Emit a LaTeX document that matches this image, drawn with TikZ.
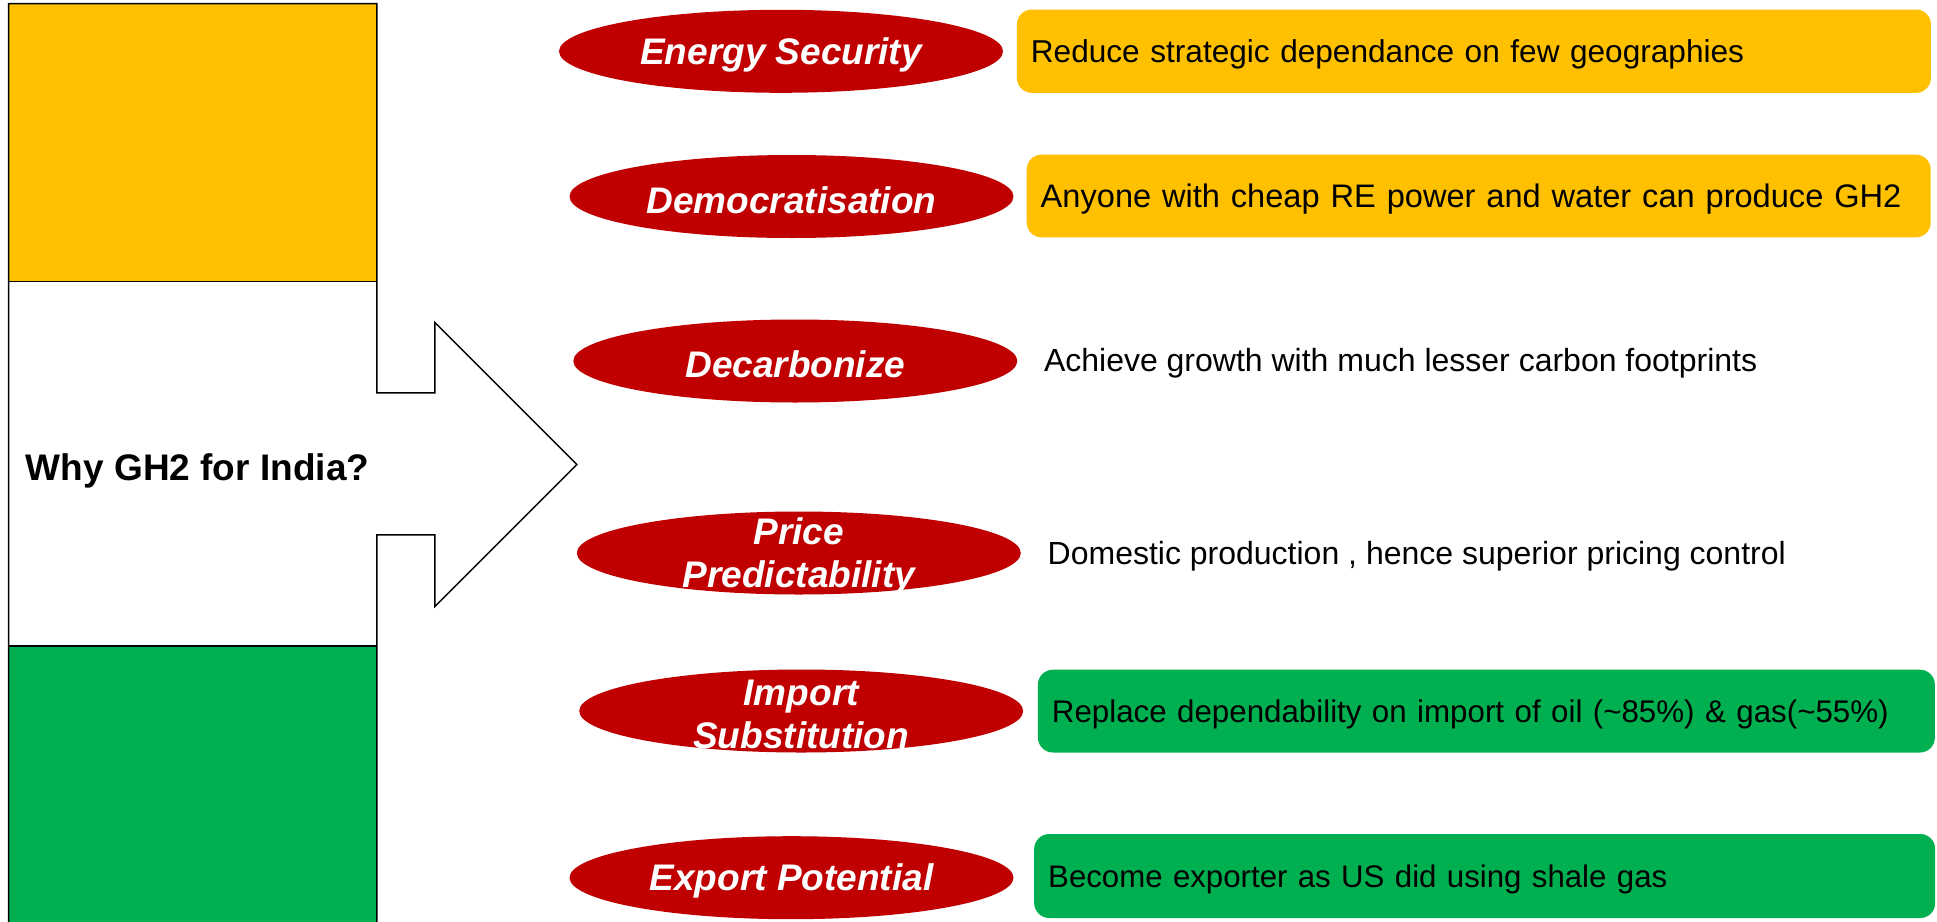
\documentclass[tikz,border=0pt]{standalone}
\usepackage{fontspec}
\setmainfont{Liberation Sans}
\usetikzlibrary{shapes.geometric}
\definecolor{saffron}{HTML}{FFC000}
\definecolor{indgreen}{HTML}{00B050}
\definecolor{ovalred}{HTML}{C00000}
\newcommand{\descsize}[1]{\fontsize{#1}{38}\selectfont}
\begin{document}
\begin{tikzpicture}[x=1pt,y=-1pt,
  oval/.style={ellipse, fill=ovalred, minimum width=444pt, minimum height=83pt, inner sep=0pt},
  ovaltext/.style={text=white, font=\fontsize{37}{43.5}\selectfont\bfseries\itshape,
                   align=center, inner sep=0pt, yshift=-3.4pt},
  descr/.style={anchor=base west, inner sep=0pt},
  tag/.style={rounded corners=15pt, anchor=north west, inner xsep=14pt, inner ysep=0pt,
              align=left, text height=23pt, text depth=0pt},
  frame/.style={draw=black, line width=1.5pt}]
\useasboundingbox (0,0) rectangle (1937,921);
\fill[white] (0,0) rectangle (1937,921);

% tricolour panel with the arrow growing out of its middle band
\fill[saffron] (8.6,3.7) rectangle (376.8,281.6);
\fill[indgreen] (8.6,646) rectangle (376.8,925);
\draw[frame, line join=miter] (376.8,925) -- (376.8,534.9) -- (434.8,534.9) -- (434.8,606.5)
  -- (576.9,464.5) -- (434.8,322.4) -- (434.8,392.8) -- (376.8,392.8) -- (376.8,3.7)
  -- (8.6,3.7) -- (8.6,925);
\draw[frame] (8.6,281.6) -- (376.8,281.6) (8.6,646) -- (376.8,646);
\node[font=\fontsize{37}{42}\selectfont\bfseries, inner sep=0pt] (why) at (197.6,470.8) {Why GH2 for India?};

% red ovals
\node[oval] (e1) at (781,51.3) {};
\node[oval] (e2) at (791.5,196.5) {};
\node[oval] (e3) at (795.3,361) {};
\node[oval] (e4) at (798.8,553) {};
\node[oval] (e5) at (801.2,711) {};
\node[oval] (e6) at (791.5,877.7) {};
\node[ovaltext] (t1) at (e1) {Energy Security};
\node[ovaltext] (t2) at (e2) {Democratisation};
\node[ovaltext] (t3) at (e3) {Decarbonize};
\node[ovaltext] (t4) at (e4) {Price\\Predictability};
\node[ovaltext] (t5) at (e5) {Import\\Substitution};
\node[ovaltext] (t6) at (e6) {Export Potential};

% explanations
\node[tag, fill=saffron, text width=886pt, minimum height=83.4pt, font=\descsize{31.6}] (d1) at (1016.7,9.3)
  {Reduce strategic dependance on few geographies};
\node[tag, fill=saffron, text width=876pt, minimum height=82.8pt, font=\descsize{32.6}] (d2) at (1026.5,154.4)
  {Anyone with cheap RE power and water can produce GH2};
\node[descr, font=\descsize{32}] (d3) at (1043.8,371.7) {Achieve growth with much lesser carbon footprints};
\node[descr, font=\descsize{32}] (d4) at (1047.5,564.2) {Domestic production , hence superior pricing control};
\node[tag, fill=indgreen, text width=869pt, minimum height=82.8pt, font=\descsize{31.3}] (d5) at (1037.7,669.5)
  {Replace dependability on import of oil (\textasciitilde85\%) \& gas(\textasciitilde55\%)};
\node[tag, fill=indgreen, text width=873pt, minimum height=84pt, font=\descsize{31.2}] (d6) at (1034,833.8)
  {Become exporter as US did using shale gas};
\end{tikzpicture}
\end{document}
